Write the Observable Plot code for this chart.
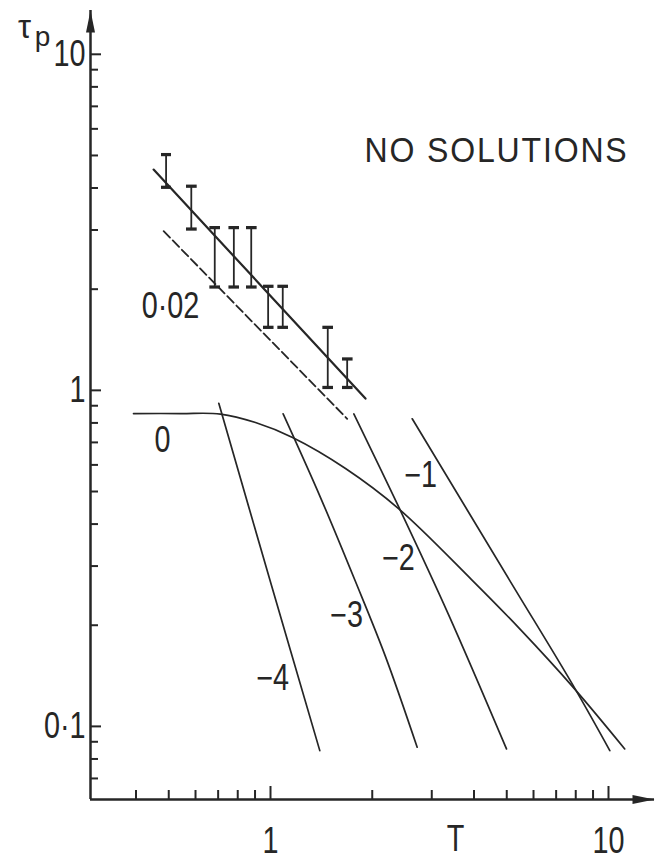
<!DOCTYPE html>
<html>
<head>
<meta charset="utf-8">
<script src="https://cdn.jsdelivr.net/npm/d3@7"></script>
<script src="https://cdn.jsdelivr.net/npm/@observablehq/plot@0.6"></script>
<style>
  html, body { margin: 0; padding: 0; background: #fff; }
  #chart { width: 656px; height: 863px; }
</style>
</head>
<body>
<div id="chart"></div>
<script>
// ---- axes ----
const xDomain = [0.2934, 13.68];
const yDomain = [0.0606, 13.5];
const xMajor = [1, 10];
const xTickLabels = ["1", "10"];
const xMinor = [0.4, 0.5, 0.6, 0.7, 0.8, 0.9, 2, 3, 4, 5, 6, 7, 8, 9];
const yMajor = [0.1, 1, 10];
const yTickLabels = ["0·1", "1", "10"];
const yMinor = [0.07, 0.08, 0.09, 0.2, 0.3, 0.4, 0.5, 0.6, 0.7, 0.8, 0.9, 2, 3, 4, 5, 6, 7, 8, 9];
const xName = ["T"];
const xNameAt = [3.53];
const yName = ["τ", "p"];

// ---- measured data with error bars ----
const barT  = [0.491, 0.583, 0.684, 0.779, 0.877, 0.984, 1.087, 1.477, 1.686];
const barLo = [4.02, 3.02, 2.03, 2.03, 2.03, 1.54, 1.54, 1.02, 1.02];
const barHi = [5.03, 4.05, 3.05, 3.05, 3.05, 2.04, 2.04, 1.54, 1.24];

// ---- fitted line (solid) and 0.02 line (dashed) ----
const fitT = [0.451, 1.91];
const fitTau = [4.54, 0.945];
const dashT = [0.483, 1.686];
const dashTau = [2.976, 0.823];

// ---- curves labelled 0, -1 ... -4 ----
const c0T   = [0.3933, 0.5417, 0.7112, 0.903, 1.162, 1.667, 2.397, 3.933, 5.49, 7.864, 11.17];
const c0Tau = [0.853, 0.853, 0.850, 0.802, 0.7238, 0.5853, 0.444, 0.2735, 0.1941, 0.1307, 0.0857];
const c1T   = [2.626, 5.105, 7.864, 10.09];
const c1Tau = [0.823, 0.2716, 0.1322, 0.0847];
const c2T   = [1.764, 2.397, 3.363, 4.991];
const c2Tau = [0.851, 0.449, 0.2151, 0.0857];
const c3T   = [1.090, 1.406, 1.784, 2.189, 2.716];
const c3Tau = [0.851, 0.4797, 0.2698, 0.1613, 0.0867];
const c4T   = [0.7031, 1.007, 1.399];
const c4Tau = [0.915, 0.2625, 0.0847];

// ---- annotations ----
const labelText = ["0", "0·02", "−1", "−2", "−3", "−4", "NO SOLUTIONS"];
const labelT    = [0.479, 0.506, 2.779, 2.391, 1.678, 1.014, 4.664];
const labelTau  = [0.709, 1.776, 0.5577, 0.3157, 0.2137, 0.1388, 5.172];

// ---- build tables ----
const pts = (xs, ys) => xs.map((x, i) => ({T: x, tau: ys[i]}));
const bars = barT.map((t, i) => ({T: t, lo: barLo[i], hi: barHi[i]}));
const curves = [c0T, c1T, c2T, c3T, c4T].map((xs, k) =>
  pts(xs, [c0Tau, c1Tau, c2Tau, c3Tau, c4Tau][k]));
const labels = labelText.map((s, i) => ({text: s, T: labelT[i], tau: labelTau[i]}));

const INK = "#262626";
const FONT = "'Liberation Sans', Arial, sans-serif";
const W = 656, H = 863, mL = 90, mR = 2, mT = 10, mB = 64;
const innerW = W - mL - mR, innerH = H - mT - mB;

const chart = Plot.plot({
  width: W, height: H,
  marginLeft: mL, marginRight: mR, marginTop: mT, marginBottom: mB,
  x: {type: "log", domain: xDomain, axis: null},
  y: {type: "log", domain: yDomain, axis: null},
  style: {background: "#fff", color: INK, fontFamily: FONT, fontSize: "36px"},
  marks: [
    // axis lines
    Plot.ruleX([xDomain[0]], {stroke: INK, strokeWidth: 2.5}),
    Plot.ruleY([yDomain[0]], {stroke: INK, strokeWidth: 2.5}),
    // arrow heads
    Plot.vector([{x: xDomain[0], y: yDomain[1]}], {x: "x", y: "y", length: 22, rotate: 0, anchor: "end", shape: "spike", r: 4.5, fill: INK, stroke: "none"}),
    Plot.vector([{x: xDomain[1], y: yDomain[0]}], {x: "x", y: "y", length: 22, rotate: 90, anchor: "end", shape: "spike", r: 4.5, fill: INK, stroke: "none"}),
    // inward ticks
    Plot.tickY(yMajor, {y: d => d, insetRight: innerW - 11, stroke: INK, strokeWidth: 2}),
    Plot.tickY(yMinor, {y: d => d, insetRight: innerW - 8, stroke: INK, strokeWidth: 2}),
    Plot.tickX(xMajor, {x: d => d, insetTop: innerH - 13, stroke: INK, strokeWidth: 2}),
    Plot.tickX(xMinor, {x: d => d, insetTop: innerH - 9, stroke: INK, strokeWidth: 2}),
    // tick labels
    Plot.axisX({ticks: xMajor, tickSize: 0, tickPadding: 28, tickFormat: d => xTickLabels[xMajor.indexOf(d)], label: null, fontSize: 36}),
    Plot.axisY({ticks: yMajor, tickSize: 0, tickPadding: 5, tickFormat: d => yTickLabels[yMajor.indexOf(d)], label: null, fontSize: 36}),
    Plot.text(xName, {x: (d, i) => xNameAt[i], frameAnchor: "bottom", dy: 51, fontSize: 36}),
    Plot.text([yName[0]], {frameAnchor: "top-left", textAnchor: "middle", lineAnchor: "middle", dx: -66, dy: 17, fontSize: 33}),
    Plot.text([yName[1]], {frameAnchor: "top-left", textAnchor: "middle", lineAnchor: "middle", dx: -48, dy: 27, fontSize: 28}),
    // curves
    ...curves.map(c => Plot.line(c, {x: "T", y: "tau", curve: "catmull-rom", stroke: INK, strokeWidth: 1.7})),
    Plot.line(pts(dashT, dashTau), {x: "T", y: "tau", stroke: INK, strokeWidth: 1.8, strokeDasharray: "9,4"}),
    Plot.line(pts(fitT, fitTau), {x: "T", y: "tau", stroke: INK, strokeWidth: 2.2}),
    Plot.link(bars, {x1: "T", x2: "T", y1: "lo", y2: "hi", stroke: INK, strokeWidth: 1.8, markerStart: "tick", markerEnd: "tick"}),
    // annotations
    Plot.text(labels, {x: "T", y: "tau", text: "text", fontSize: 36, fill: INK})
  ]
});
document.getElementById("chart").appendChild(chart);
// condensed lettering like the original drawing
for (const t of chart.querySelectorAll("text")) {
  const s = t.textContent;
  if (s === yName[0] || s === yName[1]) continue;
  if (s === "NO SOLUTIONS") {
    t.setAttribute("font-size", "35");
    t.setAttribute("letter-spacing", "2");
    t.setAttribute("textLength", "264");
  } else {
    t.setAttribute("textLength", (t.getComputedTextLength() * 0.8).toFixed(1));
  }
  t.setAttribute("lengthAdjust", "spacingAndGlyphs");
}
</script>
</body>
</html>
